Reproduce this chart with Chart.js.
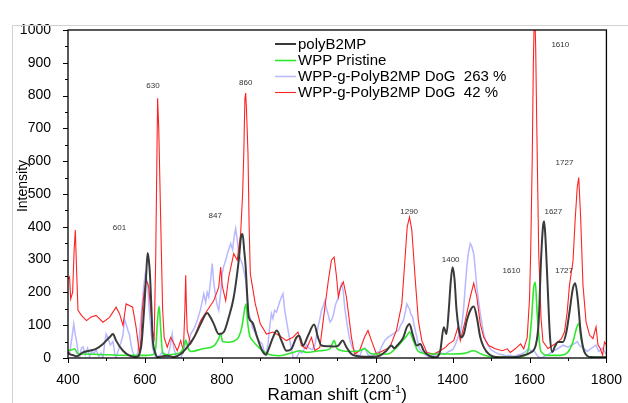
<!DOCTYPE html>
<html>
<head>
<meta charset="utf-8">
<script src="https://cdn.jsdelivr.net/npm/chart.js@4.4.1/dist/chart.umd.min.js"></script>
<style>
  html, body { margin: 0; padding: 0; background: #fff; }
  #wrap { width: 628px; height: 403px; position: relative; }
</style>
</head>
<body>
<div id="wrap"><canvas id="c" width="628" height="403"></canvas></div>
<script>
// ---------------- data ----------------
const seriesNames = ['polyB2MP', 'WPP Pristine', 'WPP-g-PolyB2MP DoG  263 %', 'WPP-g-PolyB2MP DoG  42 %'];

const polyX = [400,404,415,422,439,456,473,491,508,517,525,543,560,577,590,598,603,607,610,613,617,620,627,633,646,658,676,693,710,728,745,762,770,779,792,805,818,831,844,850,854,858,862,866,870,879,892,905,915,920,933,943,955,968,981,994,1001,1011,1024,1040,1050,1059,1075,1090,1103,1114,1124,1137,1150,1170,1190,1210,1228,1241,1248,1256,1272,1281,1288,1296,1307,1316,1325,1338,1355,1368,1377,1384,1390,1395,1400,1405,1410,1416,1422,1429,1437,1446,1455,1463,1472,1481,1494,1520,1555,1581,1603,1616,1624,1630,1635,1638,1641,1647,1653,1659,1666,1674,1687,1696,1704,1713,1719,1726,1733,1743,1760,1800];
const polyY = [18,12,8,5,17,22,28,43,63,73,53,22,7,3,33,150,247,320,300,257,150,63,15,3,5,7,3,12,33,63,104,137,125,104,73,79,124,186,298,370,378,330,277,190,124,109,63,22,10,22,63,84,53,22,28,63,68,38,68,102,63,38,36,35,38,53,33,12,6,4,4,7,22,38,30,38,63,94,104,73,38,43,22,7,2,22,94,73,145,230,277,240,150,90,63,73,114,145,157,124,63,33,12,2,2,7,17,38,114,300,400,417,376,223,70,18,35,49,49,80,141,213,228,172,80,18,3,2];

const wppX = [400,410,417,426,440,500,560,600,620,628,633,637,641,646,660,690,700,706,712,720,750,780,792,797,802,815,840,852,858,863,867,872,880,900,920,950,985,1003,1020,1055,1081,1092,1100,1130,1158,1171,1190,1230,1263,1281,1288,1298,1311,1340,1400,1430,1455,1475,1500,1560,1590,1598,1605,1611,1615,1620,1629,1648,1680,1700,1713,1722,1728,1734,1743,1760,1800];
const wppY = [22,25,28,12,12,10,8,8,10,30,120,158,90,15,10,15,30,55,30,20,28,38,60,75,50,48,58,94,140,165,110,70,53,28,12,7,17,22,17,22,28,53,28,20,22,28,12,12,43,68,79,53,20,12,12,14,22,12,4,2,8,33,114,216,231,135,22,8,8,18,49,90,105,59,18,3,2];

const dog263X = [
  400,404,410,415,419,422,426,430,435,439,
  445,451,456,462,468,473,480,486,491,495,
  499,504,510,517,522,525,530,537,543,547,
  552,556,560,564,568,573,577,582,588,592,
  597,601,604,607,611,616,620,625,629,633,
  640,646,652,658,665,671,675,680,686,693,
  700,706,712,719,728,736,745,753,758,762,
  766,771,775,779,784,788,792,797,801,805,
  810,815,823,828,832,836,840,844,849,853,
  858,862,866,870,875,879,885,892,898,905,
  910,915,920,925,929,933,937,942,946,950,
  955,959,963,968,973,977,982,986,990,994,
  998,1003,1008,1013,1020,1027,1035,1042,1050,1055,
  1059,1064,1068,1072,1077,1081,1085,1090,1095,1103,
  1107,1111,1115,1120,1126,1133,1140,1146,1152,1158,
  1165,1172,1180,1190,1200,1210,1219,1225,1232,1240,
  1246,1252,1259,1265,1272,1277,1281,1285,1288,1291,
  1296,1301,1307,1313,1320,1330,1340,1350,1360,1370,
  1380,1390,1400,1407,1411,1416,1420,1425,1429,1433,
  1437,1441,1446,1450,1455,1459,1463,1468,1472,1477,
  1481,1487,1494,1500,1510,1520,1530,1540,1550,1560,
  1570,1580,1590,1598,1604,1610,1616,1622,1630,1638,
  1648,1660,1674,1687,1700,1710,1717,1724,1730,1740,
  1750,1760,1773,1780,1790,1800];
const dog263Y = [
  10,12,60,104,70,53,20,0,30,34,
  10,30,5,20,15,25,5,15,0,40,
  73,60,40,50,10,0,20,45,70,119,
  100,84,70,40,20,5,0,20,100,150,
  220,257,240,230,150,80,30,10,0,2,
  10,20,5,0,30,73,30,10,0,0,
  20,50,40,73,90,114,150,196,170,200,
  186,240,288,230,186,160,145,200,257,280,
  298,320,349,330,370,395,360,318,300,288,
  260,237,180,135,120,94,80,63,50,43,
  20,10,43,100,135,120,145,140,155,170,
  186,196,150,114,80,53,20,0,0,0,
  10,20,15,25,40,30,25,40,94,120,
  145,160,175,150,130,110,115,130,160,186,
  210,226,210,150,100,53,30,22,10,5,
  25,30,10,5,15,20,43,55,63,70,
  73,80,84,100,114,140,165,155,150,135,
  125,95,63,30,20,8,5,10,8,15,
  12,20,25,40,53,70,75,110,155,220,
  277,320,349,340,318,270,216,170,135,100,
  73,50,35,25,18,12,10,6,8,5,
  10,12,20,30,20,25,15,5,0,5,
  10,20,29,39,33,40,44,50,38,30,
  20,29,39,20,30,10];

const dog42X = [
  400,404,407,412,416,419,422,426,435,448,
  460,473,491,508,525,534,543,551,560,568,
  577,583,586,590,593,598,603,606,610,616,
  620,624,628,633,636,641,646,650,658,667,
  676,684,693,700,704,706,708,710,719,728,
  745,762,779,792,797,801,810,818,831,840,
  849,854,857,860,862,864,868,871,874,887,
  900,916,933,950,968,985,998,1007,1020,1033,
  1042,1055,1068,1077,1085,1092,1098,1103,1109,1116,
  1124,1137,1145,1158,1171,1180,1189,1202,1219,1237,
  1254,1268,1276,1282,1288,1294,1303,1311,1320,1333,
  1351,1368,1382,1390,1403,1414,1420,1433,1446,1455,
  1463,1472,1481,1494,1511,1529,1542,1550,1563,1577,
  1585,1594,1600,1603,1607,1610,1613,1616,1619,1624,
  1630,1635,1648,1661,1674,1683,1691,1698,1704,1713,
  1719,1724,1728,1733,1739,1747,1756,1765,1773,1778,
  1784,1790,1795,1800];
const dog42Y = [
  240,247,180,200,330,390,280,145,130,114,
  125,130,109,124,155,135,99,165,160,155,
  94,40,12,60,145,200,237,230,216,135,
  80,60,300,792,700,420,150,63,33,63,
  43,22,53,22,150,252,150,84,43,63,
  114,145,175,216,277,220,175,247,318,298,
  380,500,620,790,808,760,624,400,257,165,
  104,73,79,68,53,63,79,38,28,63,
  22,33,155,237,298,308,250,186,216,232,
  186,63,12,22,63,84,53,12,22,33,
  84,165,298,400,430,390,237,114,53,17,
  12,22,33,43,53,94,53,114,186,228,
  186,104,63,38,28,22,28,17,28,43,
  28,63,180,318,600,900,1080,950,700,318,
  120,50,29,39,49,59,80,140,223,294,
  427,519,550,427,223,110,70,59,95,40,
  29,8,49,40];

// peak annotations
const peakText = ['601','630','847','860','1290','1400','1610','1610','1627','1727','1727'];
const peakX    = [534, 621, 783, 862, 1287, 1395, 1553, 1680, 1662, 1691, 1690];
const peakY    = [396, 829, 433, 838, 445, 299, 267, 956, 445, 595, 265];

// axis ticks
const xMin = 400, xMax = 1800, xStep = 200, xMinor = 100;
const yMin = 0, yMax = 1000, yStep = 100, yMinor = 50;
const xTitle = 'Raman shift (cm', xTitleSup = '-1', xTitleEnd = ')';
const yTitle = 'Intensity';

// ---------------- chart ----------------
const FONT = "'Liberation Sans', Arial, Helvetica, sans-serif";
const pts = (xs, ys) => xs.map((x, i) => ({x, y: ys[i]}));

const styles = [
  {color: '#3a3a3a', width: 2.0, order: 0, mono: true},
  {color: '#2ee82e', width: 1.6, order: 1, mono: true},
  {color: 'rgba(160,160,255,0.75)', width: 1.5, order: 3, mono: false},
  {color: '#ff2222', width: 1.1, order: 2, mono: false}
];
const dataSets = [pts(polyX, polyY), pts(wppX, wppY), pts(dog263X, dog263Y), pts(dog42X, dog42Y)];

const decor = {
  id: 'decor',
  afterDraw(chart) {
    const {ctx, chartArea: a, scales: {x, y}} = chart;
    ctx.save();
    // faint outer frame of the figure
    ctx.strokeStyle = '#d2d2d2'; ctx.lineWidth = 1;
    ctx.beginPath(); ctx.moveTo(12.5, 403); ctx.lineTo(12.5, 25.5); ctx.lineTo(628, 25.5); ctx.stroke();
    // plot box
    ctx.strokeStyle = '#000'; ctx.lineWidth = 1.3;
    ctx.strokeRect(a.left, a.top, a.right - a.left, a.bottom - a.top);
    // tick marks
    ctx.lineWidth = 1;
    ctx.beginPath();
    for (let v = xMin; v <= xMax; v += xMinor) {
      const px = Math.round(x.getPixelForValue(v)) + 0.5;
      const len = (v - xMin) % xStep === 0 ? 5 : 3;
      ctx.moveTo(px, a.bottom); ctx.lineTo(px, a.bottom + len);
    }
    for (let v = yMin; v <= yMax; v += yMinor) {
      const py = Math.round(y.getPixelForValue(v)) + 0.5;
      const len = v % yStep === 0 ? 5 : 3;
      ctx.moveTo(a.left - len, py); ctx.lineTo(a.left, py);
    }
    ctx.stroke();
    // peak labels
    ctx.fillStyle = '#333';
    ctx.font = '8px ' + FONT;
    ctx.textAlign = 'center'; ctx.textBaseline = 'middle';
    peakText.forEach((t, i) => ctx.fillText(t, x.getPixelForValue(peakX[i]), y.getPixelForValue(peakY[i])));
    // legend
    ctx.font = '15px ' + FONT;
    ctx.textAlign = 'left';
    const rows = [44, 60.5, 76.5, 92.5];
    chart.data.datasets.forEach((ds, i) => {
      ctx.strokeStyle = ds.borderColor; ctx.lineWidth = ds.borderWidth;
      ctx.beginPath(); ctx.moveTo(275, rows[i]); ctx.lineTo(296, rows[i]); ctx.stroke();
      ctx.fillStyle = '#000';
      ctx.fillText(ds.label, 298, rows[i] + 0.5);
    });
    // axis titles
    ctx.fillStyle = '#000';
    ctx.save();
    ctx.translate(23, (a.top + a.bottom) / 2 - 8);
    ctx.rotate(-Math.PI / 2);
    ctx.font = '14px ' + FONT; ctx.textAlign = 'center'; ctx.textBaseline = 'middle';
    ctx.fillText(yTitle, 0, 0);
    ctx.restore();
    ctx.font = '17px ' + FONT; ctx.textBaseline = 'alphabetic'; ctx.textAlign = 'left';
    const supFont = '11px ' + FONT;
    const w1 = ctx.measureText(xTitle).width;
    ctx.font = supFont; const w2 = ctx.measureText(xTitleSup).width;
    ctx.font = '17px ' + FONT; const w3 = ctx.measureText(xTitleEnd).width;
    let tx = (a.left + a.right) / 2 - (w1 + w2 + w3) / 2;
    const base = 400;
    ctx.fillText(xTitle, tx, base); tx += w1;
    ctx.font = supFont; ctx.fillText(xTitleSup, tx, base - 7); tx += w2;
    ctx.font = '17px ' + FONT; ctx.fillText(xTitleEnd, tx, base);
    ctx.restore();
  }
};

new Chart(document.getElementById('c'), {
  type: 'line',
  data: {
    datasets: dataSets.map((d, i) => ({
      label: seriesNames[i],
      data: d,
      borderColor: styles[i].color,
      borderWidth: styles[i].width,
      pointRadius: 0,
      fill: false,
      tension: 0,
      cubicInterpolationMode: styles[i].mono ? 'monotone' : 'default',
      order: styles[i].order
    }))
  },
  options: {
    responsive: false,
    animation: false,
    layout: {padding: {top: 30, right: 5, left: 0, bottom: 0}},
    scales: {
      x: {
        type: 'linear', min: xMin, max: xMax,
        grid: {display: false},
        border: {display: false},
        ticks: {stepSize: xStep, color: '#000', font: {family: FONT, size: 14}, padding: 6, maxRotation: 0,
                callback: v => String(v)},
        afterFit(s) { s.height = 45; }
      },
      y: {
        min: yMin, max: yMax,
        grid: {display: false},
        border: {display: false},
        ticks: {stepSize: yStep, color: '#000', font: {family: FONT, size: 14}, padding: 9,
                callback: v => String(v)},
        afterFit(s) { s.width = 68; }
      }
    },
    plugins: {legend: {display: false}, tooltip: {enabled: false}}
  },
  plugins: [decor]
});
</script>
</body>
</html>
